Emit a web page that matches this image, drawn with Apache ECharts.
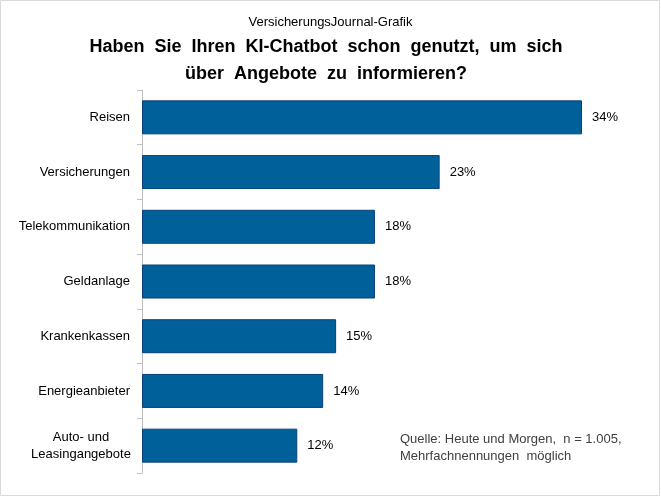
<!DOCTYPE html>
<html>
<head>
<meta charset="utf-8">
<title>KI-Chatbot</title>
<script src="https://cdn.jsdelivr.net/npm/echarts@6/dist/echarts.min.js"></script>
<style>
  html, body { margin: 0; padding: 0; background: #fff; }
  #main { width: 661px; height: 496px; }
</style>
</head>
<body>
<div id="main"></div>
<script>
var kategorien = ['Reisen', 'Versicherungen', 'Telekommunikation', 'Geldanlage', 'Krankenkassen', 'Energieanbieter', 'Auto- und\nLeasingangebote'];
var anteile = [34, 23, 18, 18, 15, 14, 12];

var myChart = echarts.init(document.getElementById('main'));

var option = {
    backgroundColor: '#fff',
    animation: false,
    title: [
        {
            text: 'VersicherungsJournal-Grafik',
            left: 'center',
            top: 11,
            textStyle: { fontFamily: 'Liberation Sans', fontSize: 13, fontWeight: 'normal', color: '#000' }
        },
        {
            text: 'Haben  Sie  Ihren  KI-Chatbot  schon  genutzt,  um  sich\nüber  Angebote  zu  informieren?',
            left: 321,
            textAlign: 'center',
            top: 29,
            textStyle: { fontFamily: 'Liberation Sans', fontSize: 18, fontWeight: 'bold', color: '#000', lineHeight: 27 }
        }
    ],
    grid: { left: 142, top: 90, width: 440, bottom: 23 },
    xAxis: {
        type: 'value',
        min: 0,
        max: 34,
        show: false
    },
    yAxis: {
        type: 'category',
        inverse: true,
        data: kategorien,
        axisLine: { show: true, lineStyle: { color: '#bfbfbf' } },
        axisTick: { show: true, inside: false, length: 5, lineStyle: { color: '#bfbfbf' } },
        axisLabel: {
            margin: 12,
            fontFamily: 'Liberation Sans',
            fontSize: 13,
            color: '#000',
            formatter: function (v) {
                if (v.indexOf('\n') >= 0) {
                    return v.split('\n').map(function (s) { return '{c|' + s + '}'; }).join('\n');
                }
                return v;
            },
            rich: {
                c: { width: 98, align: 'center', fontFamily: 'Liberation Sans', fontSize: 13, color: '#000', lineHeight: 17 }
            }
        }
    },
    series: [
        {
            type: 'bar',
            data: anteile,
            barWidth: 34,
            itemStyle: { color: '#00609a', borderColor: '#0b3f7a', borderWidth: 1 },
            label: {
                show: true,
                position: 'right',
                distance: 10,
                formatter: '{c}%',
                fontFamily: 'Liberation Sans',
                fontSize: 13,
                color: '#000'
            }
        }
    ],
    graphic: [
        {
            type: 'rect',
            shape: { x: 0.5, y: 0.5, width: 659, height: 495 },
            style: { fill: 'none', stroke: '#d9d9d9', lineWidth: 1 },
            silent: true
        },
        {
            type: 'text',
            left: 400,
            top: 431,
            style: {
                text: 'Quelle: Heute und Morgen,  n = 1.005,\nMehrfachnennungen  möglich',
                fontFamily: 'Liberation Sans',
                fontSize: 13,
                lineHeight: 17,
                fill: '#404040'
            }
        }
    ]
};

myChart.setOption(option);
</script>
</body>
</html>
